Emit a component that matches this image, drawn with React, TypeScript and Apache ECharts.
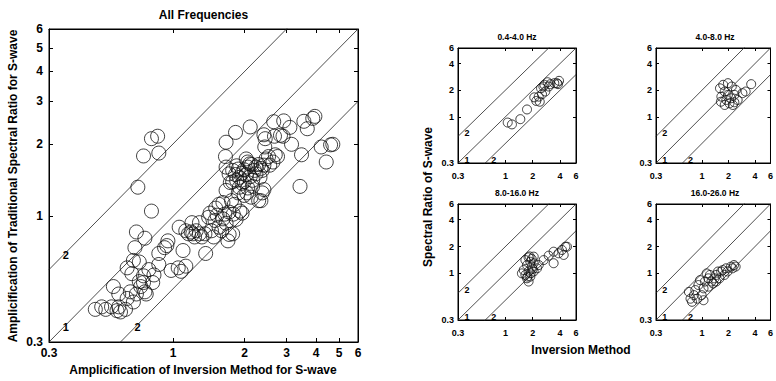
import React, { useEffect, useRef } from "react";
import * as echarts from "echarts";

// ---------- data ----------
const axisMin = 0.3;
const axisMax = 6;
const mainTicks = [0.3, 1, 2, 3, 4, 5, 6];
const smallTicks = [0.3, 1, 2, 4, 6];
const lineRatios = [2, 1, 0.5];
const lineLabels = ["2", "1", "2"];
const mainLineLabelPos = [[0.353, 0.69], [0.353, 0.346], [0.708, 0.346]];
const smallLineLabelPos = [[0.377, 0.647], [0.377, 0.324], [0.742, 0.324]];

const panelTitles = ["All Frequencies", "0.4-4.0 Hz", "4.0-8.0 Hz", "8.0-16.0 Hz", "16.0-26.0 Hz"];

// [inversion method, traditional spectral ratio]
const allFreqPoints = [
  [0.81, 2.1], [0.86, 2.15], [0.75, 1.78], [0.87, 1.83], [0.71, 1.32], [0.81, 1.05], [0.7, 0.86], [0.76, 0.81],
  [0.69, 0.74], [0.68, 0.655], [0.72, 0.645], [0.64, 0.61], [0.67, 0.577],
  [0.47, 0.41], [0.5, 0.42], [0.52, 0.41], [0.55, 0.42], [0.58, 0.405], [0.59, 0.42], [0.63, 0.41], [0.6, 0.4],
  [0.56, 0.51], [0.59, 0.475], [0.64, 0.455], [0.66, 0.485], [0.68, 0.44], [0.7, 0.475], [0.72, 0.535], [0.73, 0.51],
  [0.75, 0.53], [0.76, 0.485], [0.77, 0.475], [0.75, 0.565], [0.79, 0.6], [0.82, 0.53], [0.83, 0.57], [0.87, 0.63],
  [0.87, 0.7], [0.92, 0.74], [0.94, 0.755], [0.95, 0.79], [0.98, 0.595], [1.05, 0.61], [1.08, 0.59], [1.1, 0.72], [1.13, 0.62],
  [1.06, 0.9], [1.2, 0.94], [1.19, 0.86], [1.21, 0.845], [1.25, 0.87], [1.29, 0.845], [1.32, 0.82], [1.36, 0.845],
  [1.29, 0.94], [1.37, 0.7], [1.41, 0.99], [1.43, 1.03], [1.45, 0.87], [1.48, 0.82], [1.5, 0.96], [1.53, 1.01],
  [1.56, 0.9], [1.6, 0.87], [1.62, 0.975], [1.67, 0.935], [1.7, 0.79], [1.72, 0.84], [1.78, 0.845], [1.65, 1.02],
  [1.72, 1.04], [1.79, 1.02], [1.84, 0.97], [1.91, 1.05], [1.95, 1.03], [1.76, 1.16], [1.81, 1.12], [1.62, 1.14],
  [1.56, 1.12], [1.51, 1.08], [1.13, 0.87], [1.16, 0.845], [1.23, 0.82], [1.67, 1.28], [1.74, 1.38],
  [1.66, 1.77], [1.67, 2.03], [1.83, 2.23], [1.67, 1.6], [1.72, 1.5], [1.78, 1.55], [1.83, 1.49], [1.85, 1.62],
  [1.9, 1.45], [1.85, 1.41], [1.9, 1.32], [1.88, 1.25], [1.95, 1.51], [1.99, 1.56], [2.03, 1.49], [2.06, 1.6],
  [2.1, 1.65], [2.11, 1.46], [2.03, 1.73], [2.06, 1.68], [2.14, 1.64], [2.2, 1.55], [2.23, 1.6], [2.29, 1.64],
  [2.34, 1.58], [2.37, 1.55], [2.41, 1.63], [2.32, 1.45], [2.23, 1.5], [1.95, 1.37], [2.06, 1.31], [2.16, 1.33],
  [1.99, 1.22], [2.04, 1.25], [2.13, 1.2], [2.29, 1.16], [2.37, 1.25], [2.34, 1.16], [2.41, 1.29], [2.46, 1.73],
  [2.52, 1.77], [2.55, 1.63], [2.63, 1.68], [2.69, 1.8], [2.75, 1.77], [2.67, 2.15], [2.43, 1.94], [2.41, 2.18],
  [2.44, 2.1], [2.11, 2.35], [2.65, 2.47], [2.92, 2.49], [2.83, 2.17], [3.1, 2.34], [2.9, 2.15], [3.15, 1.99],
  [3.55, 2.48], [3.67, 2.31], [3.87, 2.55], [3.95, 2.6], [3.47, 1.8], [3.42, 1.33], [4.2, 1.94], [4.41, 1.68],
  [4.6, 1.98], [4.7, 1.99], [1.99, 1.39], [2.16, 1.41], [1.78, 1.39], [1.88, 1.57],
];

const band04to4Points = [
  [1.06, 0.86], [1.18, 0.82], [1.46, 0.94], [1.73, 1.21], [2.08, 1.66], [2.19, 1.51], [2.33, 1.69], [2.53, 1.8],
  [2.47, 2.1], [2.69, 2.3], [2.92, 2.46], [2.75, 1.93], [3.13, 2.34], [3.46, 2.4], [3.7, 2.4], [3.9, 2.55],
  [3.8, 2.34], [2.39, 1.48], [2.62, 2.2], [3.0, 2.2],
];

const band4to8Points = [
  [1.6, 2.1], [1.74, 2.3], [1.97, 2.4], [2.18, 2.2], [1.81, 1.93], [1.66, 1.69], [1.64, 1.48], [1.89, 1.55],
  [2.14, 1.62], [2.33, 1.77], [2.05, 1.42], [1.81, 1.36], [2.33, 1.46], [2.54, 1.55], [2.88, 1.85], [3.13, 1.93],
  [3.62, 2.34], [2.43, 2.01], [1.97, 1.77], [2.24, 1.36],
];

const band8to16Points = [
  [1.66, 1.41], [1.8, 1.51], [1.88, 1.35], [1.73, 1.24], [1.96, 1.19], [2.05, 1.3], [1.59, 1.09], [1.52, 1.0],
  [1.66, 0.96], [1.73, 0.88], [1.8, 0.81], [1.88, 0.92], [2.05, 1.05], [2.23, 1.14], [2.33, 1.24], [2.05, 1.54],
  [2.64, 1.41], [3.0, 1.58], [3.4, 1.75], [3.86, 1.68], [4.2, 1.83], [4.58, 1.99], [4.77, 1.99], [3.4, 1.3],
  [4.39, 1.61], [1.8, 1.05], [1.9, 1.0], [1.95, 1.45], [1.75, 0.92], [2.0, 1.12], [1.85, 1.55],
];

const band16to26Points = [
  [0.74, 0.52], [0.81, 0.57], [0.71, 0.62], [0.84, 0.65], [0.91, 0.74], [0.99, 0.57], [1.04, 0.68], [1.08, 0.81],
  [1.18, 0.88], [1.23, 0.96], [1.28, 0.81], [1.39, 0.88], [1.45, 0.96], [1.52, 1.05], [1.65, 1.05], [1.72, 1.09],
  [1.87, 1.14], [1.95, 1.05], [2.13, 1.19], [2.22, 1.14], [2.31, 1.24], [2.41, 1.19], [1.18, 0.71], [1.34, 0.77],
  [1.13, 1.0], [0.95, 0.84], [1.45, 0.81], [1.8, 0.96], [1.58, 0.88], [0.88, 0.52], [0.77, 0.48], [1.04, 0.5],
];

const panelPoints = [allFreqPoints, band04to4Points, band4to8Points, band8to16Points, band16to26Points];

// ---------- layout ----------
const FONT = "'Liberation Sans', Arial, Helvetica, sans-serif";
const grids = [
  { left: 49, top: 29, width: 309, height: 313 },
  { left: 458, top: 48, width: 118, height: 115 },
  { left: 656, top: 48, width: 118, height: 115 },
  { left: 458, top: 204, width: 118, height: 116 },
  { left: 656, top: 204, width: 118, height: 116 },
];

const L = (v: number) => Math.log10(v);
const fmt = (v: number) => String(Math.round(Math.pow(10, v) * 10) / 10);

function buildOption() {
  const xAxis: any[] = [];
  const yAxis: any[] = [];
  const series: any[] = [];
  const graphic: any[] = [];

  grids.forEach((g, i) => {
    const isMain = i === 0;
    const ticks = (isMain ? mainTicks : smallTicks).map(L);
    const fs = isMain ? 12 : 9;
    const common = {
      type: "value",
      gridIndex: i,
      min: L(axisMin),
      max: L(axisMax),
      splitLine: { show: false },
      axisLine: { show: true, onZero: false, lineStyle: { color: "#000", width: 1 } },
      axisTick: { show: true, inside: true, length: isMain ? 4 : 3, customValues: ticks, lineStyle: { color: "#000", width: 1 } },
    };
    const label = {
      show: true,
      customValues: ticks,
      formatter: fmt,
      color: "#000",
      fontSize: fs,
      fontWeight: "bold",
      fontFamily: FONT,
    };
    xAxis.push({ ...common, position: "bottom", axisLabel: { ...label, margin: isMain ? 5 : 8 } });
    xAxis.push({ ...common, position: "top", axisLabel: { show: false } });
    yAxis.push({ ...common, position: "left", axisLabel: { ...label, margin: isMain ? 6 : 4 } });
    yAxis.push({ ...common, position: "right", axisLabel: { show: false } });

    lineRatios.forEach((r) => {
      series.push({
        type: "line",
        xAxisIndex: 2 * i,
        yAxisIndex: 2 * i,
        data: [[L(axisMin), L(axisMin * r)], [L(axisMax), L(axisMax * r)]],
        symbol: "none",
        silent: true,
        clip: true,
        color: "#222",
        lineStyle: { color: "#222", width: 0.8 },
        z: 2,
      });
    });

    series.push({
      type: "scatter",
      xAxisIndex: 2 * i,
      yAxisIndex: 2 * i,
      data: panelPoints[i].map(([x, y]) => [L(x), L(y)]),
      symbol: "circle",
      symbolSize: isMain ? 14 : 9,
      itemStyle: { color: "transparent", borderColor: "#111", borderWidth: 1 },
      silent: true,
      z: 3,
    });

    graphic.push({
      type: "text",
      x: g.left + g.width / 2,
      y: isMain ? 15 : g.top - 11,
      style: {
        text: panelTitles[i],
        fill: "#000",
        font: `bold ${isMain ? 12 : 8.5}px ${FONT}`,
        align: "center",
        verticalAlign: "middle",
      },
    });
  });

  graphic.push(
    {
      type: "text",
      x: 203,
      y: 370,
      style: { text: "Amplicification of Inversion Method for S-wave", fill: "#000", font: `bold 12px ${FONT}`, align: "center", verticalAlign: "middle" },
    },
    {
      type: "text",
      x: 13,
      y: 186,
      rotation: Math.PI / 2,
      style: { text: "Amplicification of Traditional Spectral Ratio for S-wave", fill: "#000", font: `bold 12px ${FONT}`, align: "center", verticalAlign: "middle" },
    },
    {
      type: "text",
      x: 581,
      y: 350,
      style: { text: "Inversion Method", fill: "#000", font: `bold 12px ${FONT}`, align: "center", verticalAlign: "middle" },
    },
    {
      type: "text",
      x: 428,
      y: 197,
      rotation: Math.PI / 2,
      style: { text: "Spectral Ratio of S-wave", fill: "#000", font: `bold 12px ${FONT}`, align: "center", verticalAlign: "middle" },
    }
  );

  return {
    animation: false,
    backgroundColor: "#fff",
    grid: grids.map((g) => ({ ...g, show: true, borderColor: "#000", borderWidth: 1, backgroundColor: "transparent" })),
    xAxis,
    yAxis,
    series,
    graphic,
  };
}

export default function App() {
  const ref = useRef<HTMLDivElement>(null);
  useEffect(() => {
    if (!ref.current) return;
    const chart = echarts.init(ref.current, undefined, { renderer: "svg" });
    const option: any = buildOption();
    chart.setOption(option);
    // line labels ("2", "1", "2") placed through each panel's own axes
    const labelGraphics: any[] = [];
    grids.forEach((_, i) => {
      const isMain = i === 0;
      const lp = isMain ? mainLineLabelPos : smallLineLabelPos;
      lp.forEach(([x, y], k) => {
        const px = chart.convertToPixel({ xAxisIndex: 2 * i, yAxisIndex: 2 * i } as any, [L(x), L(y)]) as number[];
        labelGraphics.push({
          type: "text",
          x: px[0],
          y: px[1],
          z: 10,
          style: {
            text: lineLabels[k],
            fill: "#000",
            font: `bold ${isMain ? 11 : 9}px ${FONT}`,
            align: "center",
            verticalAlign: "middle",
          },
        });
      });
    });
    chart.setOption({ graphic: [...option.graphic, ...labelGraphics] } as any);
    return () => chart.dispose();
  }, []);
  return <div ref={ref} style={{ position: "absolute", left: 0, top: 0, width: 776, height: 381, background: "#fff" }} />;
}
